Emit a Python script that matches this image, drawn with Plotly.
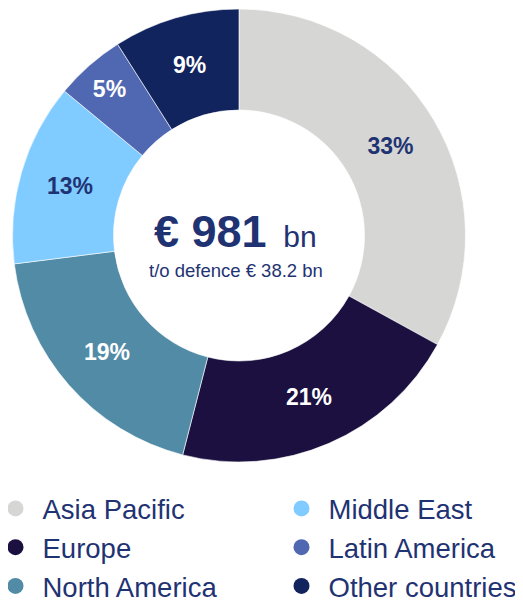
import plotly.graph_objects as go

regions = ["Asia Pacific", "Europe", "North America", "Middle East", "Latin America", "Other countries"]
shares = [33, 21, 19, 13, 5, 9]
colors = ["#D6D7D4", "#1B1040", "#528BA6", "#80CBFF", "#5068B2", "#12245E"]
label_colors = ["#1F3373", "white", "white", "#1F3373", "white", "white"]
legend_col1 = ["Asia Pacific", "Europe", "North America"]
legend_col2 = ["Middle East", "Latin America", "Other countries"]
total_text = "€ 981"
unit_text = "bn"
sub_text = "t/o defence € 38.2 bn"

TXT = "#1F3373"
FONT = "Liberation Sans, Arial, sans-serif"
# page body has an 8px margin; size the figure to fill the rest of the window
OFF = 8
W, H = 523 - OFF, 601 - OFF


def px(x):
    return (x - OFF) / W


def py(y):
    return 1 - (y - OFF) / H


fig = go.Figure()
fig.add_trace(go.Pie(
    labels=regions, values=shares, sort=False, direction="clockwise", rotation=0,
    hole=0.554,
    marker=dict(colors=colors, line=dict(color="white", width=0.6)),
    texttemplate="<b>%{value}%</b>", textposition="inside",
    insidetextorientation="horizontal",
    textfont=dict(family=FONT, size=23, color=label_colors),
    showlegend=False, hoverinfo="label+percent",
    domain=dict(x=[px(12.5), px(465.5)], y=[py(462), py(9)]),
))

cmap = dict(zip(regions, colors))
for col, names in (("legend", legend_col1), ("legend2", legend_col2)):
    for name in names:
        fig.add_trace(go.Scatter(
            x=[None], y=[None], mode="markers", name=name, legend=col,
            marker=dict(size=16, color=cmap[name], symbol="circle"),
            showlegend=True,
        ))

fig.add_annotation(
    x=px(235), y=py(231), xref="paper", yref="paper",
    text=f"<b>{total_text}</b><span style='font-size:30px'>&nbsp;&nbsp;{unit_text}</span>",
    showarrow=False, font=dict(family=FONT, size=45, color=TXT),
    xanchor="center", yanchor="middle",
)
fig.add_annotation(
    x=px(236), y=py(270), xref="paper", yref="paper",
    text=sub_text, showarrow=False, font=dict(family=FONT, size=18.5, color=TXT),
    xanchor="center", yanchor="middle",
)

leg_common = dict(
    orientation="v", yanchor="top", xanchor="left",
    itemwidth=44, font=dict(family=FONT, size=27.5, color=TXT),
    bgcolor="rgba(0,0,0,0)", itemclick=False, itemdoubleclick=False,
    tracegroupgap=0,
)
fig.update_layout(
    width=W, height=H,
    margin=dict(l=0, r=0, t=0, b=0, autoexpand=False),
    paper_bgcolor="white", plot_bgcolor="white",
    xaxis=dict(visible=False), yaxis=dict(visible=False),
    uniformtext=dict(minsize=23, mode="show"),
    legend=dict(x=(15.5 - 27 - OFF) / W, y=py(484), **leg_common),
    legend2=dict(x=(301.5 - 27 - OFF) / W, y=py(484), **leg_common),
    font=dict(family=FONT),
)

fig.write_html("out.html")
